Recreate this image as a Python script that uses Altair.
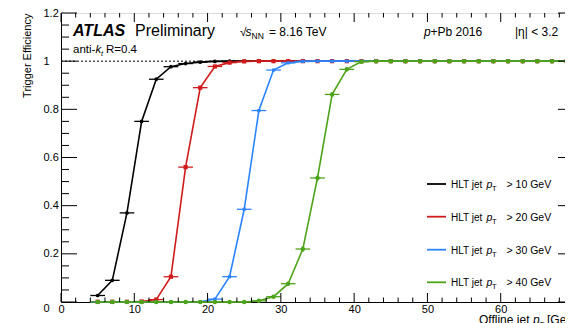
import altair as alt
import pandas as pd

# ---------------- data ----------------
x_bins = [5, 7, 9, 11, 13, 15, 17, 19, 21, 23, 25, 27, 29, 31, 33, 35, 37,
          39, 41, 43, 45, 47, 49, 51, 53, 55, 57, 59, 61, 63, 65, 67, 69]
bin_half = 1.0

eff_10 = [0.027, 0.09, 0.37, 0.75, 0.925, 0.977, 0.99, 0.996, 0.999, 1, 1, 1, 1, 1, 1, 1, 1,
          1, 1, 1, 1, 1, 1, 1, 1, 1, 1, 1, 1, 1, 1, 1, 1]
eff_20 = [0.001, 0.001, 0.001, 0.002, 0.01, 0.105, 0.56, 0.89, 0.978, 0.994, 0.999, 1, 1, 1, 1, 1, 1,
          1, 1, 1, 1, 1, 1, 1, 1, 1, 1, 1, 1, 1, 1, 1, 1]
eff_30 = [0, 0, 0, 0, 0, 0, 0, 0.001, 0.012, 0.105, 0.385, 0.795, 0.963, 0.993, 0.999, 1, 1,
          1, 1, 1, 1, 1, 1, 1, 1, 1, 1, 1, 1, 1, 1, 1, 1]
eff_40 = [0, 0, 0, 0, 0, 0, 0, 0, 0, 0, 0, 0.005, 0.022, 0.076, 0.22, 0.515, 0.862,
          0.966, 0.998, 1, 1, 1, 1, 1, 1, 1, 1, 1, 1, 1, 1, 1, 1]
err_40 = [0, 0, 0, 0, 0, 0, 0, 0, 0, 0, 0, 0.003, 0.005, 0.008, 0.012, 0.014, 0.01,
          0.008, 0.006, 0.01, 0.01, 0.01, 0.01, 0.01, 0.01, 0.01, 0.01, 0.01, 0.01, 0.01, 0.01, 0.01, 0.01]
err_other = [0.004] * 33

series_thr = ["10", "20", "30", "40"]
series_vals = [eff_10, eff_20, eff_30, eff_40]
series_errs = [err_other, err_other, err_other, err_40]
series_colors = ["#000000", "#d01c1c", "#2b84ff", "#4da31a"]
series_shapes = ["circle", "square", "square", "circle"]
series_sizes = [14, 18, 10, 20]

x_major = [0, 10, 20, 30, 40, 50, 60, 70]
x_minor = [v for v in range(0, 71, 2) if v % 10 != 0]
y_major = [0, 0.2, 0.4, 0.6, 0.8, 1.0, 1.2]
y_minor = [round(0.05 * i, 2) for i in range(25) if i % 4 != 0]

W, H = 513, 289
FONT = "Liberation Sans"

xs = alt.Scale(domain=[0, 70], nice=False, zero=False)
ys = alt.Scale(domain=[0, 1.2], nice=False, zero=False)

XAX = alt.Axis(values=x_major, ticks=False, tickSize=0, grid=False,
               domainColor="black", labelFont=FONT, labelFontSize=11,
               labelColor="black", labelPadding=1, title=None,
               labelFlush=False, labelOverlap=False)
YAX = alt.Axis(values=y_major, ticks=False, tickSize=0, grid=False,
               domainColor="black", labelFont=FONT, labelFontSize=11,
               labelColor="black", labelPadding=18, labelAlign="left",
               labelBaseline={"condition": {"test": "datum.value == 0", "value": "top"}, "value": "middle"},
               labelExpr="datum.value == 0 ? '0' : (datum.value == 1 ? '\u2002 1' : format(datum.value, '.1f'))",
               labelFlush=False, labelOverlap=False,
               title="Trigger Efficiency", titleFont=FONT, titleFontSize=11,
               titleFontWeight="normal", titleColor="black",
               titleAngle=270, titleAlign="right", titleBaseline="middle",
               titleX=-34, titleY=0)


def X(f):
    return alt.X(f, scale=xs, axis=XAX)


def Y(f):
    return alt.Y(f, scale=ys, axis=YAX)


layers = []

# dotted line at efficiency 1
one_df = pd.DataFrame({"v": [1.0]})
layers.append(alt.Chart(one_df).mark_rule(color="black", strokeDash=[2, 2], strokeWidth=1).encode(
    y=Y("v:Q"), x=alt.value(0), x2=alt.value(W)))

for vals, errs, col, shp, sz in zip(series_vals, series_errs, series_colors, series_shapes, series_sizes):
    df = pd.DataFrame({"x": x_bins, "y": vals, "e": errs})
    df["xlo"] = df["x"] - bin_half
    df["xhi"] = df["x"] + bin_half
    df["ylo"] = (df["y"] - df["e"]).clip(lower=0)
    df["yhi"] = (df["y"] + df["e"]).clip(upper=1)
    c = alt.Chart(df)
    layers.append(c.mark_rule(color=col, strokeWidth=1.3).encode(
        x=X("xlo:Q"), x2="xhi:Q", y=Y("y:Q")))
    layers.append(c.mark_rule(color=col, strokeWidth=1.3).encode(
        x=X("x:Q"), y=Y("ylo:Q"), y2="yhi:Q"))
    layers.append(c.mark_line(color=col, strokeWidth=1.6).encode(
        x=X("x:Q"), y=Y("y:Q")))
    layers.append(c.mark_point(color=col, filled=True, opacity=1, shape=shp, size=sz).encode(
        x=X("x:Q"), y=Y("y:Q")))


# inward ticks on all four sides
def xt(vals, y0, y1):
    return alt.Chart(pd.DataFrame({"v": vals})).mark_rule(color="black", strokeWidth=1).encode(
        x=X("v:Q"), y=alt.value(y0), y2=alt.value(y1))


def yt(vals, x0, x1):
    return alt.Chart(pd.DataFrame({"v": vals})).mark_rule(color="black", strokeWidth=1).encode(
        y=Y("v:Q"), x=alt.value(x0), x2=alt.value(x1))


layers += [xt(x_major, H, H - 9), xt(x_minor, H, H - 4.5), xt(x_major, 0, 9), xt(x_minor, 0, 4.5),
           yt(y_major, 0, 16), yt(y_minor, 0, 8), yt(y_major, W, W - 16), yt(y_minor, W, W - 8)]

one = pd.DataFrame({"a": [0]})


def txt(s, x, y, size=11, style="normal", weight="normal", align="left", color="black"):
    return alt.Chart(one).mark_text(text=s, font=FONT, fontSize=size, fontStyle=style,
                                    fontWeight=weight, align=align, baseline="alphabetic",
                                    color=color).encode(x=alt.value(x), y=alt.value(y))


# header texts
layers += [
    txt("ATLAS", 12, 23, size=16, style="italic", weight="bold"),
    txt("Preliminary", 74, 23, size=16),
    txt("\u221a", 179, 23, size=12),
    txt("s", 184.5, 23, size=12, style="italic"),
    txt("NN", 190.5, 26, size=8.5),
    txt("= 8.16 TeV", 208, 23, size=12),
    txt("p", 363, 23, size=12, style="italic"),
    txt("+Pb 2016", 369.5, 23, size=12),
    txt("|\u03b7| < 3.2", 454, 23, size=12),
    txt("anti-", 12, 40, size=11.5),
    txt("k", 34.5, 40, size=11.5, style="italic"),
    txt("t", 40, 43, size=7.5, style="italic"),
    txt("R=0.4", 45, 40, size=11.5),
]

# legend
leg_y = [171, 203.7, 236.7, 269.3]
for thr, col, ly in zip(series_thr, series_colors, leg_y):
    layers.append(alt.Chart(one).mark_rule(color=col, strokeWidth=1.8).encode(
        x=alt.value(366), x2=alt.value(385), y=alt.value(ly)))
    layers += [
        txt("HLT jet", 390, ly + 4, size=10),
        txt("p", 425.5, ly + 4, size=10.5, style="italic"),
        txt("T", 431, ly + 7, size=7.5),
        txt("> " + thr + " GeV", 445.5, ly + 4, size=10.5),
    ]

# x-axis title (cut at the bottom edge as in the reference)
layers += [
    txt("Offline jet", 418, 310.5, size=12),
    txt("p", 472, 310.5, size=12, style="italic"),
    txt("T", 478.5, 313.5, size=8),
    txt("[GeV]", 486, 310.5, size=12),
]

chart = alt.layer(*layers).properties(
    width=W, height=H,
    autosize=alt.AutoSizeParams(type="none"),
    padding={"left": 53, "top": 5, "right": -9, "bottom": 21},
).configure_view(stroke="black", strokeWidth=1).configure(background="white")

chart.save("out.html", embed_options={"renderer": "svg", "actions": False})
